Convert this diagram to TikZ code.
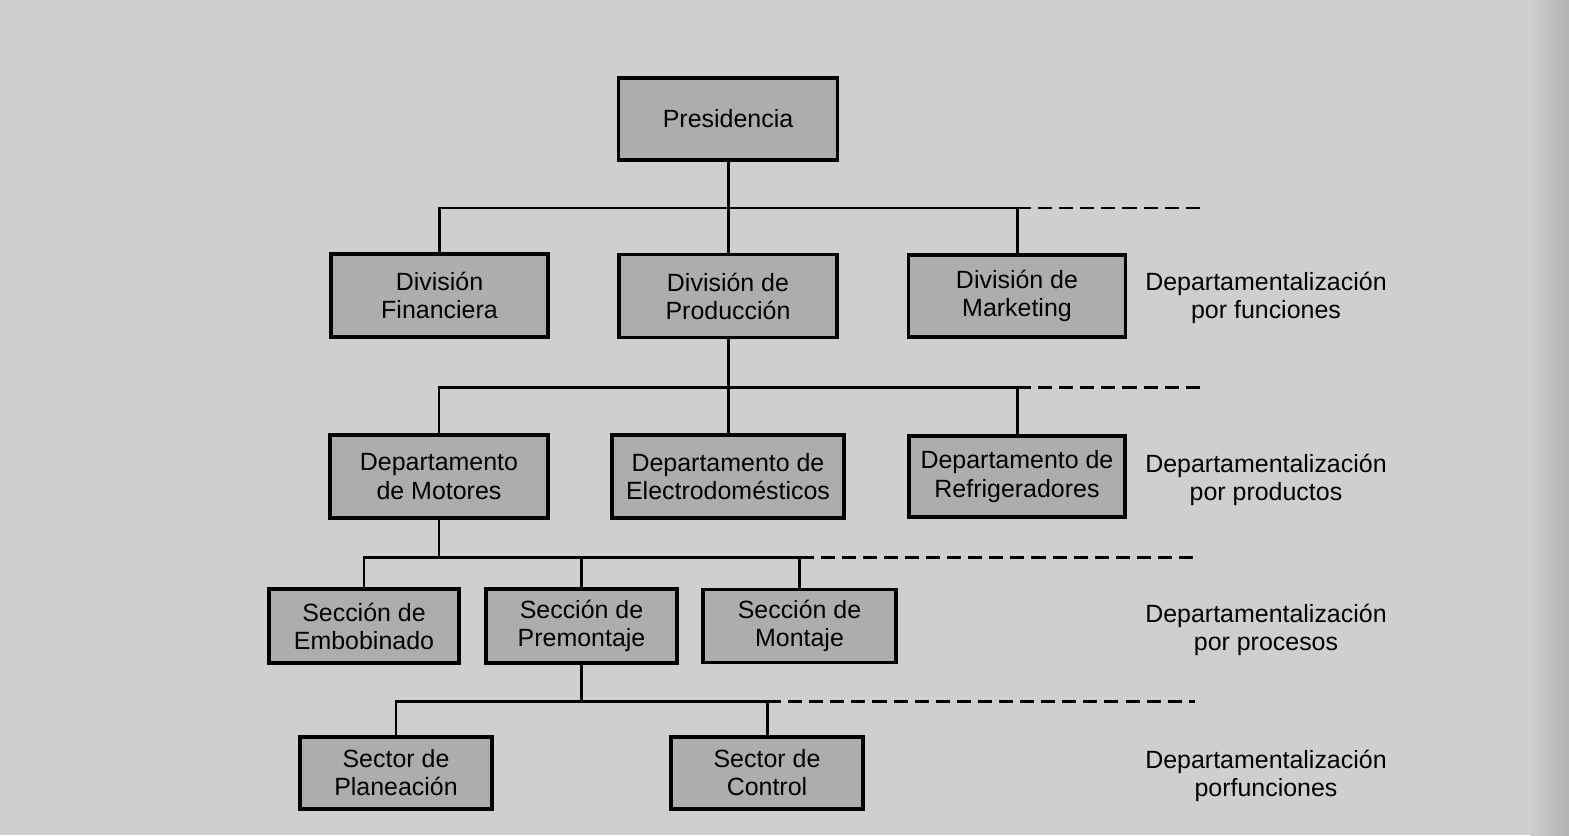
\documentclass[tikz,border=0pt]{standalone}
\usepackage{fontspec}
\setmainfont{Liberation Sans}
\definecolor{papel}{gray}{0.81}
\definecolor{cajagris}{gray}{0.68}

\begin{document}
\begin{tikzpicture}[x=0.2mm, y=-0.2mm,
    caja/.style={draw=black, line width=1.9pt, fill=cajagris, align=center,
        inner sep=0pt, font=\fontsize{14.2}{16}\selectfont},
    nota/.style={align=center, font=\fontsize{14.2}{16}\selectfont},
    linea/.style={line width=1.7pt},
    guion/.style={line width=1.7pt, dash pattern=on 8pt off 4pt}]

    % --- Fondo (papel escaneado) ---
    \fill[papel] (0,0) rectangle (1569,835);
    \shade[left color=papel, right color=gray!60] (1530,0) rectangle (1569,835);

    % --- Cajas del organigrama (nombre, x, y, ancho, alto, texto) ---
    \foreach \n/\x/\y/\w/\h/\t in {
        pres/728/119/219/82/{Presidencia},
        fin/439.5/295.5/217/83/{División\\Financiera},
        prod/728/296/218/83/{División de\\Producción},
        mkt/1017/296/217/82/{División de\\Marketing},
        mot/439/476.5/218/83/{Departamento\\de Motores},
        ele/728/476.5/232/83/{Departamento de\\Electrodomésticos},
        ref/1017/476.5/216/81/{Departamento de\\Refrigeradores},
        emb/364/626/190/74/{Sección de\\Embobinado},
        pre/581.5/626/191/74/{Sección de\\Premontaje},
        mon/799.5/626/193/73/{Sección de\\Montaje},
        pla/396/773/192/72/{Sector de\\Planeación},
        con/767/773/192/72/{Sector de\\Control}}{
        \node[caja, minimum width=\w*0.2mm, minimum height=\h*0.2mm] (\n) at (\x,\y) {\t};
    }

    % --- Etiquetas de cada nivel ---
    \node[nota] (n1) at (1266,298) {Departamentalización\\por funciones};
    \node[nota] (n2) at (1266,480) {Departamentalización\\por productos};
    \node[nota] (n3) at (1266,630) {Departamentalización\\por procesos};
    \node[nota] (n4) at (1266,776) {Departamentalización\\porfunciones};

    % --- Barras de cada nivel y final de las líneas punteadas ---
    \coordinate (b1) at (728,208);
    \coordinate (b2) at (728,387);
    \coordinate (b3) at (439,557);
    \coordinate (b4) at (581.5,701);
    \coordinate (f1) at (1205,208);
    \coordinate (f2) at (1204,387);
    \coordinate (f3) at (1195,557);
    \coordinate (f4) at (1195,701);

    % Nivel 1: funciones
    \draw[linea] (pres.south) -- (prod.north);
    \draw[linea] (fin.north) |- (b1) -| (mkt.north);
    \draw[guion] (mkt.north |- b1) -- (f1);

    % Nivel 2: productos
    \draw[linea] (prod.south) -- (ele.north);
    \draw[linea] (mot.north) |- (b2) -| (ref.north);
    \draw[guion] (ref.north |- b2) -- (f2);

    % Nivel 3: procesos
    \draw[linea] (mot.south) -- (b3);
    \draw[linea] (emb.north) |- (b3) -| (mon.north);
    \draw[linea] (pre.north) -- (pre.north |- b3);
    \draw[guion] (mon.north |- b3) -- (f3);

    % Nivel 4: funciones
    \draw[linea] (pre.south) -- (b4);
    \draw[linea] (pla.north) |- (b4) -| (con.north);
    \draw[guion] (con.north |- b4) -- (f4);

\end{tikzpicture}
\end{document}
